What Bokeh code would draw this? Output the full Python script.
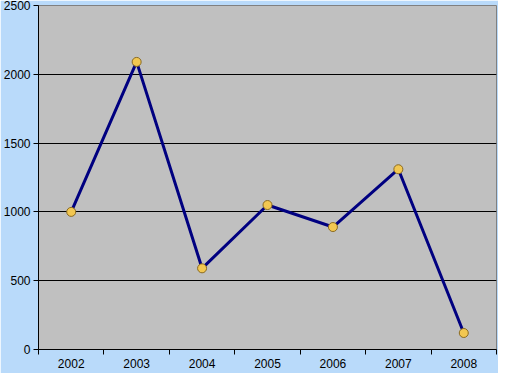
from bokeh.plotting import figure
from bokeh.models import Range1d, FixedTicker, ColumnDataSource
from bokeh.embed import file_html
from bokeh.resources import INLINE

years = ["2002", "2003", "2004", "2005", "2006", "2007", "2008"]
values = [1000, 2090, 590, 1050, 890, 1310, 120]
y_ticks = [0, 500, 1000, 1500, 2000, 2500]

FONT = "Liberation Sans"

# category slots: each year occupies one unit, the point sits in the slot centre
centers = [i + 0.5 for i in range(len(years))]
bounds = list(range(len(years) + 1))

src = ColumnDataSource(dict(x=centers, y=values, year=years))

p = figure(x_range=Range1d(0, len(years)),
           y_range=Range1d(0, 2500),
           frame_width=458, frame_height=344,
           min_border_left=35, min_border_right=2, min_border_top=5, min_border_bottom=24,
           output_backend="svg", toolbar_location=None)

p.background_fill_color = "#C0C0C0"
p.border_fill_color = "#B9DAFA"
p.outline_line_color = "#808080"
p.outline_line_width = 1

p.xgrid.visible = False

bx = p.xaxis[0]
bx.ticker = FixedTicker(ticks=centers, minor_ticks=bounds)
bx.major_label_overrides = {c: y for c, y in zip(centers, years)}
bx.major_tick_out = 0
bx.major_tick_in = 0
bx.minor_tick_out = 5
bx.minor_tick_in = 0
bx.minor_tick_line_color = "black"
bx.axis_line_color = "black"
bx.major_label_text_font = FONT
bx.major_label_text_font_size = "12px"
bx.major_label_text_color = "black"
bx.major_label_standoff = 4

ya = p.yaxis[0]
ya.ticker = FixedTicker(ticks=y_ticks)
ya.major_tick_out = 5
ya.major_tick_in = 0
ya.minor_tick_out = 0
ya.minor_tick_in = 0
ya.axis_line_color = "black"
ya.major_tick_line_color = "black"
ya.major_label_text_font = FONT
ya.major_label_text_font_size = "12px"
ya.major_label_text_color = "black"
ya.major_label_standoff = 3

p.ygrid.ticker = FixedTicker(ticks=y_ticks[1:-1])
p.ygrid.grid_line_color = "black"
p.ygrid.grid_line_width = 1

p.line("x", "y", source=src, line_color="#000080", line_width=3)
p.scatter("x", "y", source=src, size=9, fill_color="#F2C751",
          line_color="#8A6A20", line_width=1)

open("out.html", "w").write(file_html(p, INLINE))
